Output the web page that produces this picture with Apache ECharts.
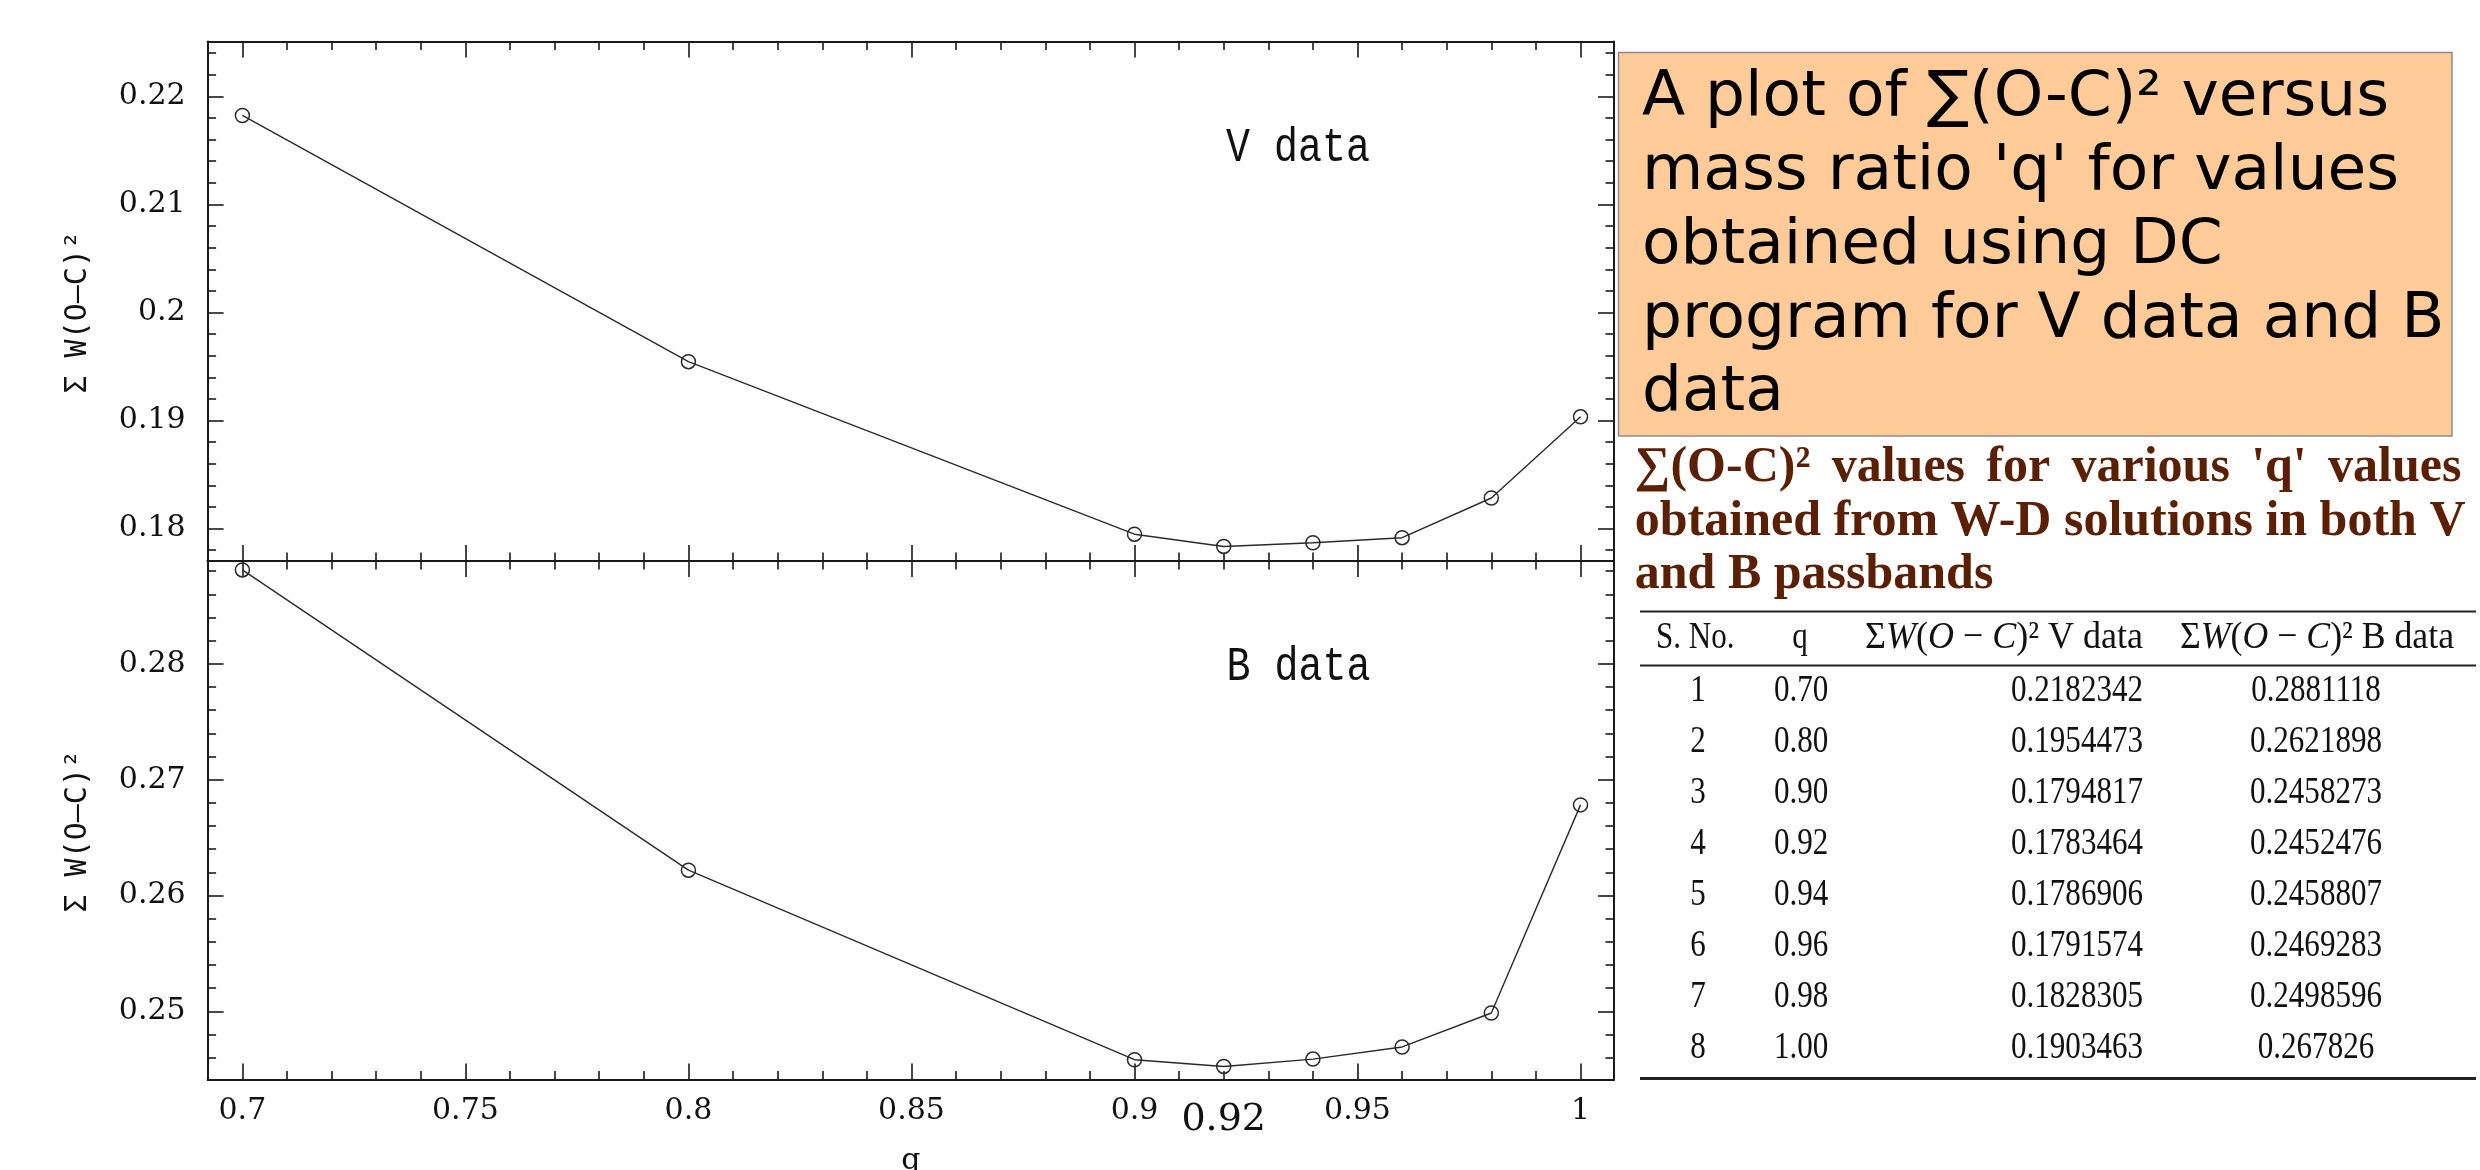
<!DOCTYPE html>
<html><head><meta charset="utf-8">
<script src="https://cdn.jsdelivr.net/npm/echarts@6/dist/echarts.min.js"></script>
<style>html,body{margin:0;padding:0;background:#fff}#c{width:2480px;height:1170px}</style>
</head><body><div id="c"></div><script>
// ---------------- data ----------------
const qValues = [0.70, 0.80, 0.90, 0.92, 0.94, 0.96, 0.98, 1.00];
const vData = [0.2182342, 0.1954473, 0.1794817, 0.1783464, 0.1786906, 0.1791574, 0.1828305, 0.1903463];
const bData = [0.2881118, 0.2621898, 0.2458273, 0.2452476, 0.2458807, 0.2469283, 0.2498596, 0.267826];
const serialNo = [1, 2, 3, 4, 5, 6, 7, 8];
const xMajorTicks = [0.7, 0.75, 0.8, 0.85, 0.9, 0.95, 1.0];
const xMinorTicks = [0.71, 0.72, 0.73, 0.74, 0.76, 0.77, 0.78, 0.79, 0.81, 0.82, 0.83, 0.84,
                     0.86, 0.87, 0.88, 0.89, 0.91, 0.92, 0.93, 0.94, 0.96, 0.97, 0.98, 0.99];
const xExtraLabel = [0.92];
const vMajorTicks = [0.18, 0.19, 0.2, 0.21, 0.22];
const vMinorTicks = [0.178, 0.182, 0.184, 0.186, 0.188, 0.192, 0.194, 0.196, 0.198, 0.202, 0.204,
                     0.206, 0.208, 0.212, 0.214, 0.216, 0.218, 0.222, 0.224];
const bMajorTicks = [0.25, 0.26, 0.27, 0.28];
const bMinorTicks = [0.246, 0.248, 0.252, 0.254, 0.256, 0.258, 0.262, 0.264, 0.266, 0.268,
                     0.272, 0.274, 0.276, 0.278, 0.282, 0.284, 0.286, 0.288];
const xRange = [0.6922, 1.0075];
const vRange = [0.1770, 0.22508];
const bRange = [0.24412, 0.28888];
const panelLabels = ['V data', 'B data'];
const yAxisTitle = 'Σ W(O—C)²';
const xAxisTitle = 'q';
const boxLines = ["A plot of ∑(O-C)² versus", "mass ratio 'q' for values", "obtained using DC",
                  "program for V data and B", "data"];
const titleLines = ["∑(O-C)² values for various 'q' values", "obtained from W-D solutions in both V",
                    "and B passbands"];
const headerLabels = ['S. No.', 'q', 'V data', 'B data'];

// ---------------- helpers ----------------
const mctx = document.createElement('canvas').getContext('2d');
function measure(t, font) { mctx.font = font; return mctx.measureText(t).width; }
const INK = '#1a1a1a';

function axis(dim, gridIndex, position, range, ticks, len, showLine, extra) {
  const a = {
    type: 'value', gridIndex: gridIndex, position: position, min: range[0], max: range[1],
    axisLine: { show: showLine, onZero: false, lineStyle: { color: INK, width: 2 } },
    axisTick: { show: true, inside: true, length: len, customValues: ticks, lineStyle: { color: INK, width: 1.6 } },
    axisLabel: { show: false },
    splitLine: { show: false }, minorTick: { show: false }, minorSplitLine: { show: false },
    axisPointer: { show: false }, silent: true
  };
  return Object.assign(a, extra || {});
}
const tickLabelStyle = { fontFamily: 'DejaVu Serif', fontSize: 30, color: '#111' };
const yNameStyle = { fontFamily: 'DejaVu Sans Mono', fontSize: 30, color: '#111', padding: [0, 22, 0, 0] };

const xAxes = [];
const yAxes = [];
// grid 0 (V data)
xAxes.push(axis('x', 0, 'bottom', xRange, xMajorTicks, 16, true));      // 0
xAxes.push(axis('x', 0, 'bottom', xRange, xMinorTicks, 8.5, false));    // 1
xAxes.push(axis('x', 0, 'top', xRange, xMajorTicks, 16, true));         // 2
xAxes.push(axis('x', 0, 'top', xRange, xMinorTicks, 8.5, false));       // 3
// grid 1 (B data)
xAxes.push(axis('x', 1, 'bottom', xRange, xMajorTicks, 16, true, {      // 4
  axisLabel: Object.assign({ show: true, customValues: xMajorTicks, margin: 17 }, tickLabelStyle),
  name: xAxisTitle, nameLocation: 'middle', nameGap: 67,
  nameTextStyle: { fontFamily: 'DejaVu Serif', fontSize: 30, color: '#111' }
}));
xAxes.push(axis('x', 1, 'bottom', xRange, xMinorTicks, 8.5, false));    // 5
xAxes.push(axis('x', 1, 'top', xRange, xMajorTicks, 16, true));         // 6
xAxes.push(axis('x', 1, 'top', xRange, xMinorTicks, 8.5, false));       // 7
xAxes.push(axis('x', 1, 'bottom', xRange, [], 0, false, {               // 8 highlighted q label
  axisTick: { show: false },
  axisLabel: { show: true, customValues: xExtraLabel, margin: 22, fontFamily: 'DejaVu Serif', fontSize: 38, color: '#111',
               formatter: v => v.toFixed(2) }
}));

yAxes.push(axis('y', 0, 'left', vRange, vMajorTicks, 16, true, {
  axisLabel: Object.assign({ show: true, customValues: vMajorTicks, margin: 22 }, tickLabelStyle),
  name: yAxisTitle, nameLocation: 'middle', nameRotate: 90, nameGap: 114, nameTextStyle: yNameStyle
}));
yAxes.push(axis('y', 0, 'left', vRange, vMinorTicks, 8.5, false));
yAxes.push(axis('y', 0, 'right', vRange, vMajorTicks, 16, true));
yAxes.push(axis('y', 0, 'right', vRange, vMinorTicks, 8.5, false));
yAxes.push(axis('y', 1, 'left', bRange, bMajorTicks, 16, true, {
  axisLabel: Object.assign({ show: true, customValues: bMajorTicks, margin: 22 }, tickLabelStyle),
  name: yAxisTitle, nameLocation: 'middle', nameRotate: 90, nameGap: 114, nameTextStyle: yNameStyle
}));
yAxes.push(axis('y', 1, 'left', bRange, bMinorTicks, 8.5, false));
yAxes.push(axis('y', 1, 'right', bRange, bMajorTicks, 16, true));
yAxes.push(axis('y', 1, 'right', bRange, bMinorTicks, 8.5, false));

function lineSeries(xi, yi, ys) {
  return {
    type: 'line', xAxisIndex: xi, yAxisIndex: yi,
    data: qValues.map((q, i) => [q, ys[i]]),
    symbol: 'circle', symbolSize: 14, showSymbol: true,
    lineStyle: { color: '#2a2a2a', width: 1.4 },
    itemStyle: { color: 'rgba(0,0,0,0)', borderColor: '#2a2a2a', borderWidth: 1.5 },
    emphasis: { disabled: true }, silent: true, z: 5
  };
}

// ---------------- graphics (text panel, table) ----------------
const G = [];
function txt(x, y, text, font, fill, align, opts) {
  const el = Object.assign({
    type: 'text', x: x, y: y, silent: true,
    style: { text: text, font: font, fill: fill, textAlign: align, textVerticalAlign: 'middle' }
  }, opts || {});
  G.push(el);
  return el;
}
// panel labels
txt(1298, 148.5, panelLabels[0], '40px "Liberation Mono"', '#111', 'center', { scaleY: 1.2 });
txt(1298.5, 667.5, panelLabels[1], '40px "Liberation Mono"', '#111', 'center', { scaleY: 1.2 });

// orange box
G.push({ type: 'rect', silent: true, shape: { x: 1618.5, y: 52.5, width: 833.5, height: 383.5 },
         style: { fill: '#FFCB98', stroke: '#8c8c8c', lineWidth: 1.5 } });
G.push({ type: 'text', x: 1642, y: 62.2, silent: true,
         style: { text: boxLines.join('\n'), font: '63px "DejaVu Sans"', fill: '#000',
                  textAlign: 'left', textVerticalAlign: 'top', lineHeight: 73.7 } });

// brown bold title, first line justified
const TF = 'bold 50px "Liberation Serif"';
const TC = '#5b1f04';
const tLeft = 1634.8, tRight = 2461.4;
const titleMid = [468.3, 521.7, 574.7];
(function () {
  const words = titleLines[0].split(' ');
  const widths = words.map(w => measure(w, TF));
  const gap = (tRight - tLeft - widths.reduce((a, b) => a + b, 0)) / (words.length - 1);
  let x = tLeft;
  words.forEach((w, i) => { txt(x, titleMid[0], w, TF, TC, 'left'); x += widths[i] + gap; });
  txt(tLeft, titleMid[1], titleLines[1], TF, TC, 'left');
  txt(tLeft, titleMid[2], titleLines[2], TF, TC, 'left');
})();

// table rules
[[611.5, 2.2], [665.5, 2.2], [1078.4, 3]].forEach(r => {
  G.push({ type: 'rect', silent: true, shape: { x: 1640, y: r[0] - r[1] / 2, width: 836, height: r[1] }, style: { fill: '#222' } });
});
// table text
const TBF = '38.5px "Liberation Serif"';
const TBFI = 'italic 38.5px "Liberation Serif"';
const digitScale = 132 / measure('0.2182342', TBF);
const headY = 637.5;
txt(1656, headY, headerLabels[0], TBF, '#111', 'left', { scaleX: digitScale });
txt(1800, headY, headerLabels[1], TBF, '#111', 'center', { scaleX: digitScale });
function sigmaHeader(x, align, suffix, targetW) {
  const plain = 'ΣW(O − C)² ' + suffix;
  const sc = targetW / measure(plain, TBF);
  G.push({
    type: 'text', x: x, y: headY, scaleX: sc, silent: true,
    style: {
      text: '{n|Σ}{i|W}{n|(}{i|O}{n| − }{i|C}{n|)² ' + suffix + '}',
      font: TBF, fill: '#111', textAlign: align, textVerticalAlign: 'middle',
      rich: { n: { font: TBF, fill: '#111' }, i: { font: TBFI, fill: '#111' } }
    }
  });
}
sigmaHeader(2143, 'right', headerLabels[2], 282);
sigmaHeader(2317, 'center', headerLabels[3], 278);
const rowY0 = 691, rowStep = 50.93;
serialNo.forEach((n, i) => {
  const y = rowY0 + i * rowStep;
  txt(1698, y, String(n), TBF, '#111', 'center', { scaleX: digitScale });
  txt(1774, y, qValues[i].toFixed(2), TBF, '#111', 'left', { scaleX: digitScale });
  txt(2143, y, String(vData[i]), TBF, '#111', 'right', { scaleX: digitScale });
  txt(2316, y, String(bData[i]), TBF, '#111', 'center', { scaleX: digitScale });
});

const option = {
  animation: false,
  backgroundColor: '#ffffff',
  tooltip: { show: false },
  grid: [
    { left: 207.6, top: 41.5, width: 1406.4, height: 519.5, containLabel: false, outerBoundsMode: 'none' },
    { left: 207.6, top: 561, width: 1406.4, height: 518.5, containLabel: false, outerBoundsMode: 'none' }
  ],
  xAxis: xAxes,
  yAxis: yAxes,
  series: [lineSeries(0, 0, vData), lineSeries(4, 4, bData)],
  graphic: { elements: G }
};
const chart = echarts.init(document.getElementById('c'), null, { renderer: 'canvas' });
chart.setOption(option);
</script></body></html>
